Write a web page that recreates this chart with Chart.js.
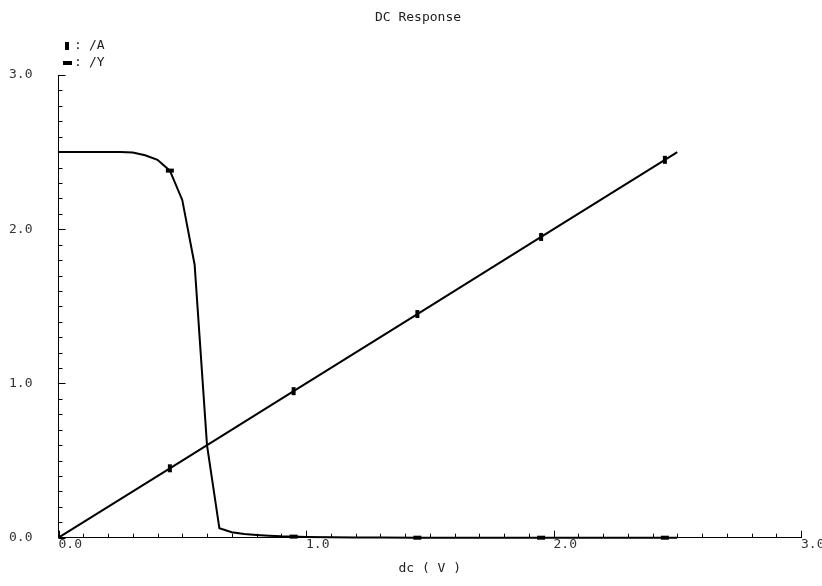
<!DOCTYPE html>
<html>
<head>
<meta charset="utf-8">
<script src="https://cdn.jsdelivr.net/npm/chart.js@4/dist/chart.umd.min.js"></script>
<style>
  html, body { margin: 0; padding: 0; background: #fff; }
  #wrap { width: 822px; height: 586px; }
</style>
</head>
<body>
<div id="wrap"><canvas id="c" width="822" height="586"></canvas></div>
<script>
// ---- data ----
const chartTitle = "DC Response";
const xAxisTitle = "dc ( V )";
const seriesNames = ["/A", "/Y"];

// input ramp /A
const sweepA = [0, 0.45, 0.95, 1.45, 1.95, 2.45, 2.5];
const valuesA = [0, 0.45, 0.95, 1.45, 1.95, 2.45, 2.5];

// inverter output /Y
const sweepY = [0, 0.25, 0.3, 0.35, 0.4, 0.45, 0.5, 0.55, 0.6, 0.65, 0.7, 0.75, 0.8, 0.85, 0.9, 0.95, 1.0, 1.1, 1.2, 1.3, 1.45, 1.95, 2.45, 2.5];
const valuesY = [2.5, 2.5, 2.497, 2.48, 2.45, 2.38, 2.19, 1.77, 0.60, 0.061, 0.035, 0.024, 0.018, 0.013, 0.009, 0.007, 0.005, 0.003, 0.002, 0.001, 0, 0, 0, 0];

// marker positions on each trace
const markersA = [0.45, 0.95, 1.45, 1.95, 2.45];
const markersY = [0.45, 0.95, 1.45, 1.95, 2.45];

// axis ranges / ticks
const xMin = 0, xMax = 3, yMin = 0, yMax = 3;
const majorStep = 1, minorStep = 0.1;

const FONT = "'DejaVu Sans Mono', 'Liberation Mono', monospace";

function pts(xs, ys) { return xs.map((x, i) => ({ x: x, y: ys[i] })); }

const inwardTicks = {
  id: 'inwardTicks',
  afterDraw(chart) {
    const ctx = chart.ctx;
    const xs = chart.scales.x, ys = chart.scales.y;
    const area = chart.chartArea;
    ctx.save();
    ctx.strokeStyle = '#000';
    ctx.lineWidth = 1;
    const nx = Math.round((xMax - xMin) / minorStep);
    for (let i = 0; i <= nx; i++) {
      const v = xMin + i * minorStep;
      const px = Math.round(xs.getPixelForValue(v)) + 0.5;
      const len = (i % Math.round(majorStep / minorStep) === 0) ? 7 : 4;
      ctx.beginPath();
      ctx.moveTo(px, area.bottom);
      ctx.lineTo(px, area.bottom - len);
      ctx.stroke();
    }
    const ny = Math.round((yMax - yMin) / minorStep);
    for (let i = 0; i <= ny; i++) {
      const v = yMin + i * minorStep;
      const py = Math.round(ys.getPixelForValue(v)) + 0.5;
      const len = (i % Math.round(majorStep / minorStep) === 0) ? 7 : 4;
      ctx.beginPath();
      ctx.moveTo(area.left, py);
      ctx.lineTo(area.left + len, py);
      ctx.stroke();
    }
    // title
    ctx.fillStyle = '#222';
    ctx.font = '13px ' + FONT;
    ctx.textAlign = 'center';
    ctx.textBaseline = 'middle';
    ctx.fillText(chartTitle, 418, 18);
    // legend
    ctx.textAlign = 'left';
    const ds = chart.data.datasets;
    const rows = [46, 63];
    ds.forEach((d, i) => {
      const y = rows[i];
      ctx.fillStyle = '#000';
      if (i === 0) ctx.fillRect(65, y - 4, 4, 8);
      else ctx.fillRect(63, y - 2, 9, 4);
      ctx.fillStyle = '#222';
      ctx.fillText(':', 74, y);
      ctx.fillText(d.label, 89, y);
    });
    ctx.restore();
  }
};

const markerRadius = (list) => (c) => (c.raw && list.includes(c.raw.x)) ? 4 : 0;

new Chart(document.getElementById('c'), {
  type: 'line',
  data: {
    datasets: [
      {
        label: seriesNames[0],
        data: pts(sweepA, valuesA),
        borderColor: '#000',
        backgroundColor: '#000',
        borderWidth: 2,
        tension: 0,
        pointStyle: 'line',
        pointRotation: 90,
        pointRadius: markerRadius(markersA),
        pointHoverRadius: markerRadius(markersA),
        pointBorderWidth: 4,
        pointBorderColor: '#000',
        clip: false
      },
      {
        label: seriesNames[1],
        data: pts(sweepY, valuesY),
        borderColor: '#000',
        backgroundColor: '#000',
        borderWidth: 2,
        tension: 0,
        pointStyle: 'line',
        pointRotation: 0,
        pointRadius: markerRadius(markersY),
        pointHoverRadius: markerRadius(markersY),
        pointBorderWidth: 4,
        pointBorderColor: '#000',
        clip: false
      }
    ]
  },
  options: {
    responsive: false,
    animation: false,
    events: [],
    layout: { padding: { top: 75, left: 9, right: 21, bottom: 0 } },
    plugins: {
      legend: { display: false },
      title: { display: false },
      tooltip: { enabled: false }
    },
    scales: {
      x: {
        type: 'linear',
        min: xMin, max: xMax,
        grid: { display: false, drawTicks: false },
        border: { display: true, color: '#000', width: 1 },
        ticks: {
          stepSize: majorStep,
          align: 'start',
          padding: -1,
          color: '#333',
          font: { family: FONT, size: 13 },
          callback: (v) => Number(v).toFixed(1)
        },
        title: {
          display: true,
          text: xAxisTitle,
          color: '#222',
          font: { family: FONT, size: 13 },
          padding: { top: 0, bottom: 10 }
        },
        afterFit(s) { s.height = 48.3; s.paddingRight = 0; s.paddingLeft = 0; }
      },
      y: {
        type: 'linear',
        min: yMin, max: yMax,
        grid: { display: false, drawTicks: false },
        border: { display: true, color: '#000', width: 1 },
        ticks: {
          stepSize: majorStep,
          crossAlign: 'far',
          color: '#333',
          font: { family: FONT, size: 13 },
          callback: (v) => Number(v).toFixed(1)
        },
        afterFit(s) { s.width = 49.5; s.paddingTop = 0; s.paddingBottom = 0; }
      }
    }
  },
  plugins: [inwardTicks]
});
</script>
</body>
</html>
